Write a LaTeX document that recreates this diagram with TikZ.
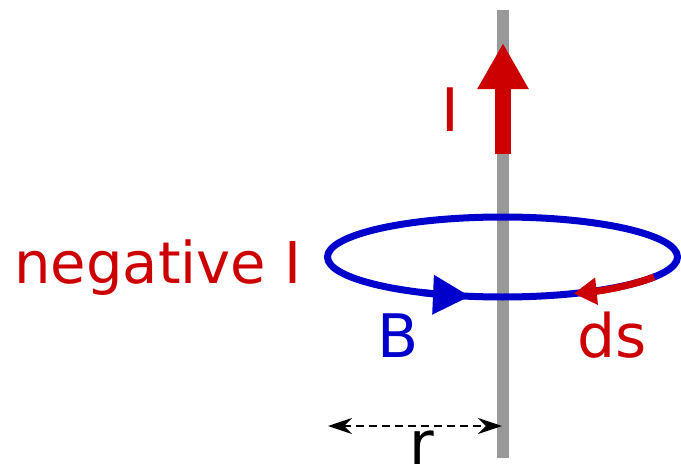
\documentclass[tikz,border=0pt]{standalone}
\usepackage{fontspec}
\setmainfont{DejaVu Sans}
\usetikzlibrary{arrows.meta}
\definecolor{wirered}{HTML}{CC0000}
\definecolor{loopblue}{HTML}{0000CC}
\definecolor{wiregray}{HTML}{999999}
\tikzset{
  lbl/.style={font=\fontsize{30}{36}\selectfont, inner sep=0pt, anchor=base},
}
\begin{document}
\begin{tikzpicture}[x=0.5pt, y=-0.5pt]
\useasboundingbox (0,0) rectangle (681,466);

% Alambre
\coordinate (top) at (503,10);
\coordinate (bot) at (503,458);
\draw [line width=6pt, wiregray] (top) -- (bot);

% Corriente I
\coordinate (Ibase) at (503,154);
\coordinate (Itip) at (503,43);
\draw [line width=8pt, wirered, -{Triangle[length=23pt, width=24pt]}] (Ibase) -- (Itip);
\node [lbl, text=wirered] (Ilabel) at (450,131) {I};

% Lazo
\draw [line width=3.5pt, loopblue] (502.5,257) ellipse [x radius=175, y radius=40];
\draw [line width=3.5pt, loopblue, -{Triangle[length=18.5pt, width=19pt]}]
  (502.5,257) ++(118:175 and 40) arc [start angle=118, end angle=100.7, x radius=175, y radius=40];
\draw [line width=3.5pt, wirered, -{Triangle[length=11.5pt, width=13pt]}]
  (502.5,257) ++(30:175 and 40) arc [start angle=30, end angle=66, x radius=175, y radius=40];

% Etiquetas
\node [lbl, text=wirered, font=\fontsize{28.8}{34}\selectfont] (neg) at (158,283) {negative I};
\node [lbl, text=loopblue] (B) at (398,357) {B};
\node [lbl, text=wirered] (ds) at (612,357) {ds};

% Radio
\coordinate (rleft) at (328,426);
\coordinate (rright) at (502,426);
\draw [line width=1pt, dash pattern=on 4pt off 2.5pt, {Stealth[length=12pt, width=8pt]}-{Stealth[length=12pt, width=8pt]}] (rleft) -- (rright);
\node [lbl] (r) at (422,464) {r};
\end{tikzpicture}
\end{document}
